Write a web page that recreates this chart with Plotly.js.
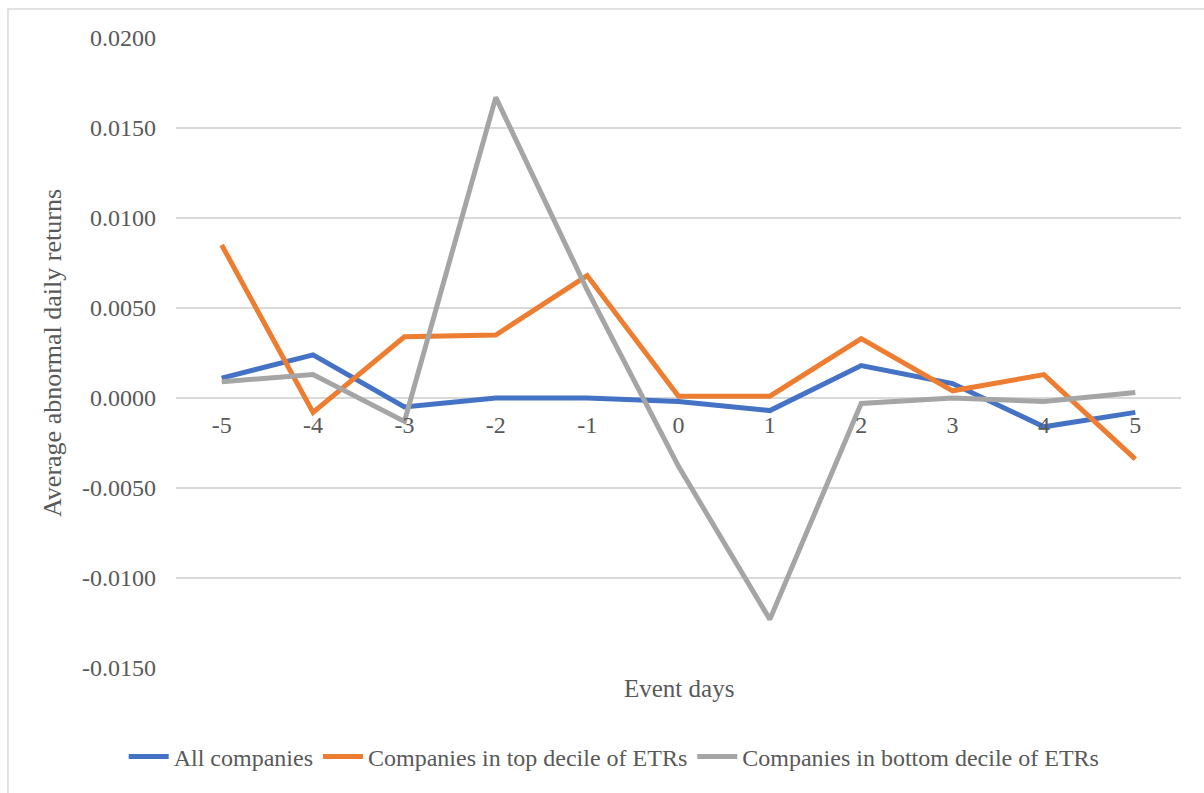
<!DOCTYPE html>
<html>
<head>
<meta charset="utf-8">
<script src="https://cdn.plot.ly/plotly-3.0.1.min.js"></script>
<style>
  html, body { margin: 0; padding: 0; background: #ffffff; }
  #chart { width: 1204px; height: 793px; }
</style>
</head>
<body>
<div id="chart"></div>
<script>
// Event days around the announcement
const eventDays = [-5, -4, -3, -2, -1, 0, 1, 2, 3, 4, 5];

// Average abnormal daily returns per group
const allCompanies = [0.0011, 0.0024, -0.0005, 0.0000, 0.0000, -0.0002, -0.0007, 0.0018, 0.0008, -0.0016, -0.0008];
const topDecile = [0.0085, -0.0008, 0.0034, 0.0035, 0.0068, 0.0001, 0.0001, 0.0033, 0.0004, 0.0013, -0.0034];
const bottomDecile = [0.0009, 0.0013, -0.0013, 0.0167, 0.0060, -0.0038, -0.0123, -0.0003, 0.0000, -0.0002, 0.0003];

const seriesNames = [
  'All companies',
  'Companies in top decile of ETRs',
  'Companies in bottom decile of ETRs'
];

const yTicks = [-0.015, -0.01, -0.005, 0, 0.005, 0.01, 0.015, 0.02];
const yTickText = yTicks.map(v => v.toFixed(4));

const FONT = '"Liberation Serif", "Times New Roman", serif';
const TEXT = '#595959';
const GRID = '#d9d9d9';
const SIZE = 24;

const yMin = -0.015, yMax = 0.02;
const zeroPos = (0 - yMin) / (yMax - yMin);

function line(name, values, color) {
  return {
    type: 'scatter',
    mode: 'lines',
    name: name,
    x: eventDays,
    y: values,
    line: { color: color, width: 5 },
    hoverinfo: 'x+y+name'
  };
}

const data = [
  line(seriesNames[0], allCompanies, '#4472C4'),
  line(seriesNames[1], topDecile, '#ED7D31'),
  line(seriesNames[2], bottomDecile, '#A5A5A5')
];

const layout = {
  width: 1204,
  height: 793,
  margin: { l: 176, r: 23, t: 38, b: 125 },
  paper_bgcolor: '#ffffff',
  plot_bgcolor: '#ffffff',
  font: { family: FONT, color: TEXT, size: SIZE },
  showlegend: true,
  legend: {
    orientation: 'h',
    x: 0.436, xanchor: 'center',
    y: -0.141, yanchor: 'middle',
    font: { family: FONT, color: TEXT, size: SIZE },
    itemwidth: 40,
    traceorder: 'normal'
  },
  xaxis: {
    range: [-5.5, 5.5],
    tickmode: 'array',
    tickvals: eventDays,
    ticktext: eventDays.map(String),
    showgrid: false,
    zeroline: false,
    showline: false,
    ticks: '',
    ticklabelstandoff: 10,
    anchor: 'free',
    position: zeroPos,
    tickfont: { family: FONT, color: TEXT, size: SIZE },
    fixedrange: true
  },
  yaxis: {
    range: [yMin, yMax],
    tickmode: 'array',
    tickvals: yTicks,
    ticktext: yTickText,
    showgrid: true,
    gridcolor: GRID,
    gridwidth: 1.5,
    zeroline: false,
    showline: false,
    ticks: '',
    ticklabelstandoff: 19,
    tickfont: { family: FONT, color: TEXT, size: SIZE },
    title: {
      text: 'Average abnormal daily returns',
      font: { family: FONT, color: TEXT, size: 26 },
      standoff: 12
    },
    fixedrange: true
  },
  annotations: [
    {
      text: 'Event days',
      xref: 'paper', yref: 'paper',
      x: 0.5, y: -0.032,
      xanchor: 'center', yanchor: 'middle',
      showarrow: false,
      font: { family: FONT, color: TEXT, size: 25 }
    }
  ],
  shapes: [
    {
      type: 'rect',
      xref: 'paper', yref: 'paper',
      x0: -0.1672, x1: 1.04,
      y0: -0.22, y1: 1.046,
      line: { color: GRID, width: 1.5 },
      fillcolor: 'rgba(0,0,0,0)',
      layer: 'below'
    }
  ]
};

Plotly.newPlot('chart', data, layout, { displayModeBar: false, staticPlot: true });
</script>
</body>
</html>
